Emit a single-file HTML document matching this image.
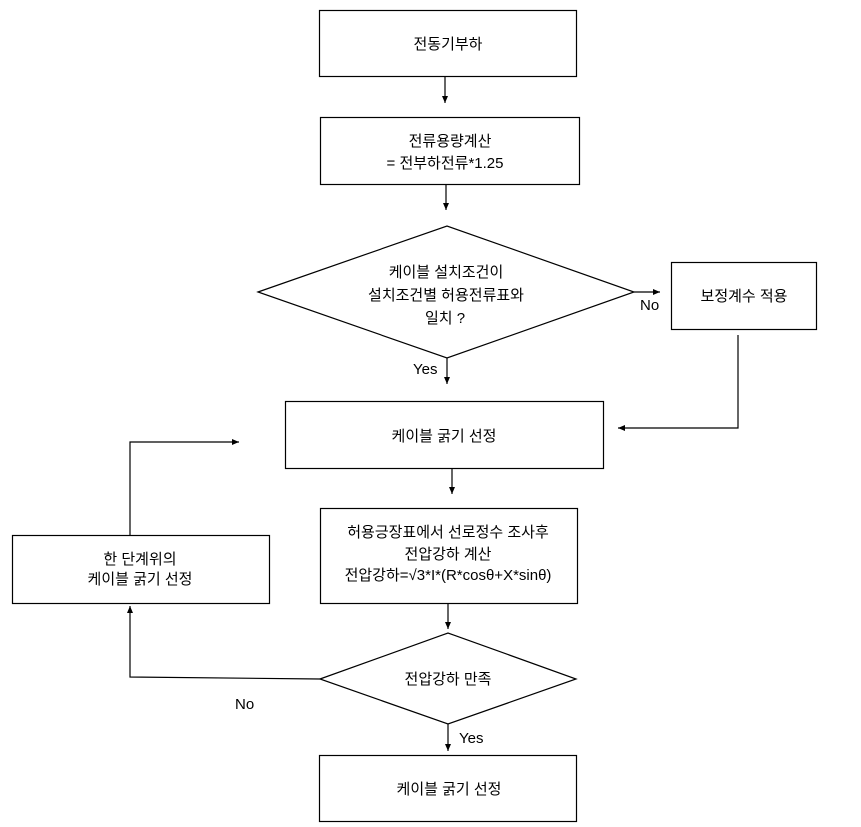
<!DOCTYPE html>
<html><head><meta charset="utf-8"><style>
html,body{margin:0;padding:0;background:#fff;}
svg{display:block;}
text{font-family:"Liberation Sans","Noto Sans CJK KR","NanumGothic",sans-serif;font-size:15px;fill:#000;}
</style></head><body>
<svg width="861" height="827" viewBox="0 0 861 827" xmlns="http://www.w3.org/2000/svg">
<defs><marker id="a" markerWidth="8" markerHeight="8" refX="7" refY="4" orient="auto" markerUnits="userSpaceOnUse"><path d="M0,1 L7,4 L0,7 z" fill="#000"/></marker></defs>
<g fill="none" stroke="#000" stroke-width="1.2">
<rect x="319.5" y="10.5" width="257" height="66"/>
<rect x="320.5" y="117.5" width="259" height="67"/>
<polygon points="258,292 447,226 634,292 447,358"/>
<rect x="671.5" y="262.5" width="145" height="67"/>
<rect x="285.5" y="401.5" width="318" height="67"/>
<rect x="320.5" y="508.5" width="257" height="95"/>
<polygon points="320,679 448,633 576,679 448,724"/>
<rect x="12.5" y="535.5" width="257" height="68"/>
<rect x="319.5" y="755.5" width="257" height="66"/>
<line x1="445" y1="76" x2="445" y2="103" marker-end="url(#a)"/>
<line x1="446" y1="184" x2="446" y2="210" marker-end="url(#a)"/>
<line x1="634" y1="292" x2="660" y2="292" marker-end="url(#a)"/>
<polyline points="738,335 738,428 618,428" marker-end="url(#a)"/>
<line x1="447" y1="358" x2="447" y2="384" marker-end="url(#a)"/>
<line x1="452" y1="468" x2="452" y2="494" marker-end="url(#a)"/>
<line x1="448" y1="603" x2="448" y2="629" marker-end="url(#a)"/>
<polyline points="320,679 130,677 130,606" marker-end="url(#a)"/>
<polyline points="130,535 130,442 239,442" marker-end="url(#a)"/>
<line x1="448" y1="724" x2="448" y2="751" marker-end="url(#a)"/>
</g>
<g text-anchor="middle">
<text x="448" y="49">전동기부하</text>
<text x="450" y="146">전류용량계산</text>
<text x="445" y="168">= 전부하전류*1.25</text>
<text x="446" y="277">케이블 설치조건이</text>
<text x="446" y="300">설치조건별 허용전류표와</text>
<text x="445" y="323">일치 ?</text>
<text x="744" y="301">보정계수 적용</text>
<text x="444" y="441">케이블 굵기 선정</text>
<text x="448" y="537">허용긍장표에서 선로정수 조사후</text>
<text x="448" y="559">전압강하 계산</text>
<text x="448" y="580">전압강하=√3*I*(R*cosθ+X*sinθ)</text>
<text x="448" y="684">전압강하 만족</text>
<text x="140" y="564">한 단계위의</text>
<text x="140" y="584">케이블 굵기 선정</text>
<text x="449" y="794">케이블 굵기 선정</text>
</g>
<text x="640" y="310">No</text>
<text x="413" y="374">Yes</text>
<text x="235" y="709">No</text>
<text x="459" y="743">Yes</text>
</svg>
</body></html>
